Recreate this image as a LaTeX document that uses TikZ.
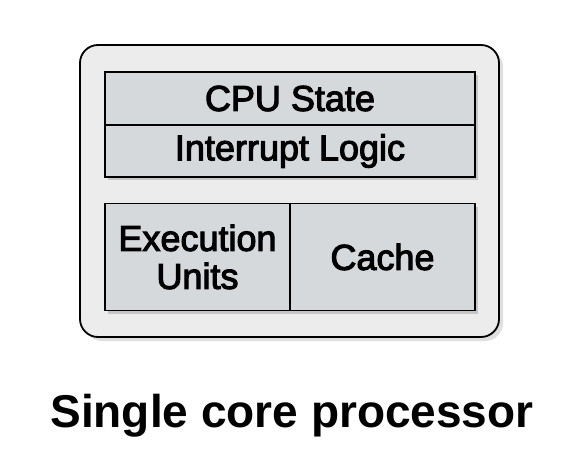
\documentclass[tikz,border=0pt]{standalone}
\usepackage{fontspec}
\setmainfont{Liberation Sans}
\newfontfamily\cellfont[FakeBold=3]{Liberation Sans}
\usetikzlibrary{positioning,shadows}
\definecolor{cellgray}{RGB}{214,217,220}
\definecolor{coregray}{RGB}{236,236,236}
\tikzset{
  cell/.style={draw, line width=1.5pt, fill=cellgray, outer sep=0pt, inner sep=0pt,
    font=\cellfont\fontsize{36}{38}\selectfont, align=center,
    drop shadow={shadow xshift=3pt, shadow yshift=-3pt, opacity=0.35}},
  corebox/.style={draw, line width=1.8pt, fill=coregray, rounded corners=18pt,
    minimum width=419pt, minimum height=292pt,
    drop shadow={shadow xshift=4pt, shadow yshift=-4pt, opacity=0.25}}
}
\begin{document}
\begin{tikzpicture}[x=1pt,y=-1pt]
\useasboundingbox (0,0) rectangle (576,474);

\node[corebox] (core) at (289.5,191) {};

\node[cell, minimum width=370pt, minimum height=53pt] (cpu) at (290,98.5) {CPU State};
\node[cell, minimum width=370pt, minimum height=52pt, below=0pt of cpu] (irq) {Interrupt Logic};

\node[cell, minimum width=185pt, minimum height=107pt] (exec) at (197.5,257) {Execution\\Units};
\node[cell, minimum width=185pt, minimum height=107pt, right=0pt of exec] (cache) {Cache};

\node[anchor=base, font=\fontsize{46}{50}\selectfont\bfseries] (title) at (292,427) {Single core processor};

\end{tikzpicture}
\end{document}
